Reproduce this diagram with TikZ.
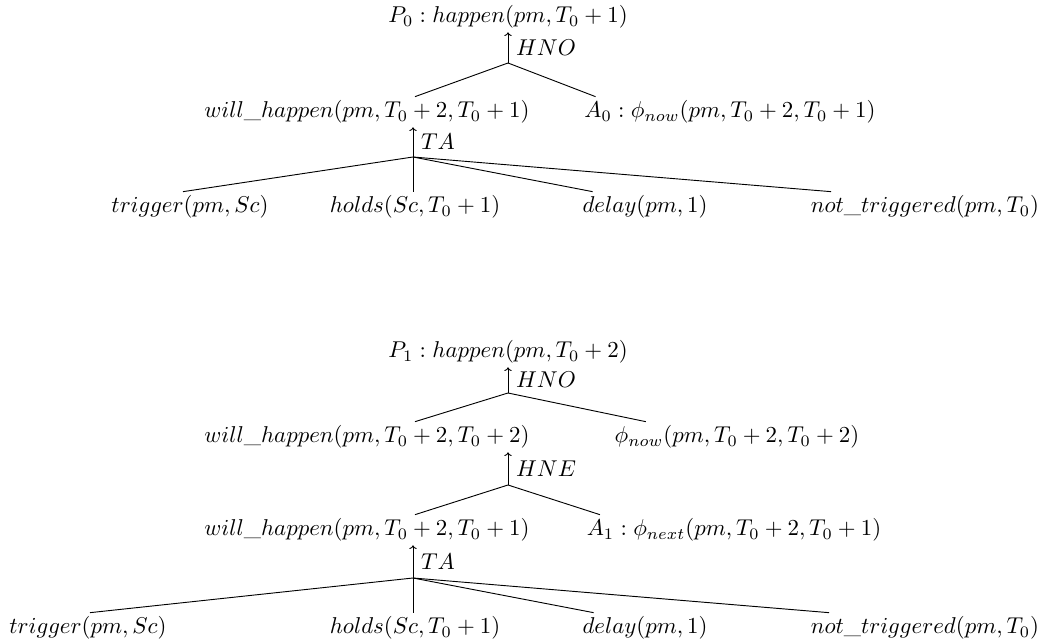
\documentclass[tikz,border=0pt]{standalone}
\usepackage{amsmath}
\usepackage{amssymb}
\usepackage{tikz}
\usetikzlibrary{arrows.meta, calc}

\begin{document}
\begin{tikzpicture}[x=0.437pt, y=-0.437pt, term/.style={inner sep=1.5pt}, rulearrow/.style={-{To[length=1.6pt,width=3.2pt]}}]
  \useasboundingbox (0,0) rectangle (1046,642);
  % first derivation
  \node[term] (p0) at (508,17) {$P_0 : happen(pm, T_0+1)$};
  \node[term] (wh0) at (367,112) {$will\_happen(pm, T_0+2, T_0+1)$};
  \node[term] (a0) at (730,112) {$A_0 : \phi_{now}(pm, T_0+2, T_0+1)$};
  \node[term] (tr0) at (190,207) {$trigger(pm, Sc)$};
  \node[term] (ho0) at (415,207) {$holds(Sc, T_0+1)$};
  \node[term] (de0) at (645,207) {$delay(pm, 1)$};
  \node[term] (nt0) at (925,207) {$not\_triggered(pm, T_0)$};
  \coordinate (hno0) at (508,63);
  \coordinate (ta0) at (413,157);
  \draw[rulearrow] (hno0) -- (p0.south -| hno0) node[midway,right]{$HNO$};
  \draw (hno0) -- ($(wh0.north)+(48,0)$);
  \draw (hno0) -- ($(a0.north west)+(15,0)$);
  \draw[rulearrow] (ta0) -- (wh0.south -| ta0) node[midway,right]{$TA$};
  \draw (ta0) -- ($(tr0.north)+(-7,0)$);
  \draw (ta0) -- (ho0.north -| ta0);
  \draw (ta0) -- ($(de0.north west)+(14,0)$);
  \draw (ta0) -- ($(nt0.north west)+(24,0)$);
  % second derivation
  \node[term] (p1) at (508,352) {$P_1 : happen(pm, T_0+2)$};
  \node[term] (wh2) at (367,437) {$will\_happen(pm, T_0+2, T_0+2)$};
  \node[term] (phn) at (737,437) {$\phi_{now}(pm, T_0+2, T_0+2)$};
  \node[term] (wh1) at (367,530) {$will\_happen(pm, T_0+2, T_0+1)$};
  \node[term] (a1) at (734,530) {$A_1 : \phi_{next}(pm, T_0+2, T_0+1)$};
  \node[term] (tr1) at (88,628) {$trigger(pm, Sc)$};
  \node[term] (ho1) at (415,628) {$holds(Sc, T_0+1)$};
  \node[term] (de1) at (645,628) {$delay(pm, 1)$};
  \node[term] (nt1) at (925,628) {$not\_triggered(pm, T_0)$};
  \coordinate (hno1) at (508,393);
  \coordinate (hne1) at (508,485);
  \coordinate (ta1) at (413,578);
  \draw[rulearrow] (hno1) -- (p1.south -| hno1) node[midway,right]{$HNO$};
  \draw (hno1) -- ($(wh2.north)+(48,0)$);
  \draw (hno1) -- ($(phn.north west)+(35,0)$);
  \draw[rulearrow] (hne1) -- (wh2.south -| hne1) node[midway,right]{$HNE$};
  \draw (hne1) -- ($(wh1.north)+(48,0)$);
  \draw (hne1) -- ($(a1.north west)+(17,0)$);
  \draw[rulearrow] (ta1) -- (wh1.south -| ta1) node[midway,right]{$TA$};
  \draw (ta1) -- ($(tr1.north)+(2,0)$);
  \draw (ta1) -- (ho1.north -| ta1);
  \draw (ta1) -- ($(de1.north west)+(15,0)$);
  \draw (ta1) -- ($(nt1.north west)+(22,0)$);
\end{tikzpicture}
\end{document}
